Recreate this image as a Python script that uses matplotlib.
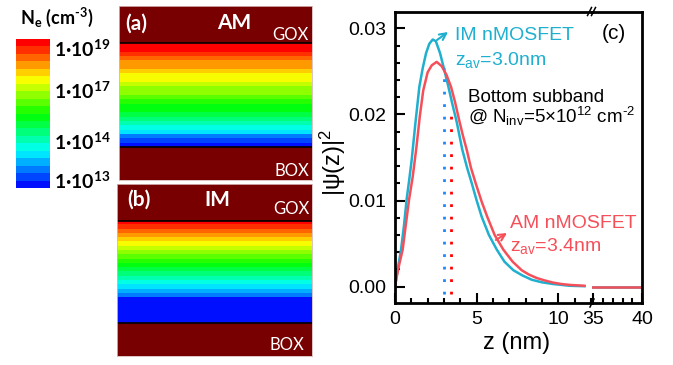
import numpy as np
import matplotlib
matplotlib.use('Agg')
import matplotlib.pyplot as plt
from matplotlib.colors import ListedColormap, Normalize
from matplotlib.cm import ScalarMappable
from matplotlib.lines import Line2D
from matplotlib.ticker import MultipleLocator, FormatStrFormatter

plt.rcParams['font.family'] = ['Liberation Sans', 'DejaVu Sans']
plt.rcParams['mathtext.default'] = 'regular'

# |psi(z)|^2 of the bottom subband
im_z = [0, 0.1, 0.2, 0.37, 0.55, 0.71, 0.87, 1.02, 1.25, 1.49, 1.7, 1.9, 2.1, 2.31,
        2.5, 2.76, 3.0, 3.27, 3.5, 3.78, 4.12, 4.4, 4.7, 5.0, 5.31, 5.75, 6.23, 6.7,
        7.25, 7.8, 8.37, 9.0, 9.7, 10.7, 11.6]
im_psi = [0, 0.0012, 0.0024, 0.0043, 0.0071, 0.0101, 0.0124, 0.0147, 0.0190, 0.0232,
          0.0254, 0.0271, 0.0282, 0.0287, 0.0285, 0.0271, 0.0253, 0.0232, 0.0213,
          0.0191, 0.0159, 0.0139, 0.0120, 0.0100, 0.0081, 0.0060, 0.0043, 0.0029,
          0.0019, 0.0013, 0.0008, 0.0005, 0.0003, 0.0001, 0.00005]
am_z = [0, 0.1, 0.25, 0.47, 0.65, 0.86, 1.08, 1.3, 1.52, 1.73, 2.0, 2.25, 2.55, 2.86,
        3.15, 3.43, 3.68, 3.92, 4.15, 4.39, 4.65, 4.94, 5.3, 5.65, 6.1, 6.63, 7.2,
        7.76, 8.2, 8.68, 9.2, 9.7, 10.2, 10.7, 11.6]
am_psi = [0, 0.0011, 0.0025, 0.0043, 0.0070, 0.0101, 0.0127, 0.0160, 0.0198, 0.0228,
          0.0249, 0.0257, 0.0261, 0.0256, 0.0246, 0.0232, 0.0214, 0.0194, 0.0176,
          0.0159, 0.0138, 0.0120, 0.0099, 0.0081, 0.0060, 0.0043, 0.0029, 0.0019,
          0.0014, 0.0010, 0.0007, 0.00046, 0.0003, 0.0002, 0.0001]
tail_z = [34.85, 40.0]
tail_psi = [0.0, 0.0]
zav = [3.0, 3.4]            # IM, AM
zav_top = [0.0254, 0.0209]

# electron density colour level across the Si film, top (GOX) to bottom (BOX)
am_level = [0.98, 0.95, 0.91, 0.87, 0.84, 0.80, 0.77, 0.73, 0.70, 0.67, 0.63, 0.60,
            0.56, 0.53, 0.49, 0.45, 0.40, 0.35, 0.31, 0.26, 0.20, 0.14, 0.07, 0.01]
im_level = [0.98, 0.93, 0.88, 0.83, 0.78, 0.73, 0.68, 0.63, 0.58, 0.53, 0.48, 0.43,
            0.38, 0.33, 0.28, 0.23, 0.16, 0.10, 0.03, 0.0, 0.0, 0.0, 0.0, 0.0]
layers = [33, 103, 37]      # BOX, Si, GOX

cbar_pos = [0.054, 0.32, 0.66, 0.94]
cbar_labels = [r'1·10$^{13}$', r'1·10$^{14}$', r'1·10$^{17}$', r'1·10$^{19}$']

cyan = '#1FAFCF'
red = '#F5505A'
dark = '#780000'
cmap = ListedColormap(plt.cm.hsv(np.linspace(0.667, 0.0, 20)))

W, H = 673, 365
fig = plt.figure(figsize=(6.73, 3.65), dpi=100)


def px(x0, y0, x1, y1):
    return [x0 / W, 1 - y1 / H, (x1 - x0) / W, (y1 - y0) / H]


def draw_film(ax, level, tag, name, pos):
    box, si, gox = layers
    ax.axhspan(0, box, color=dark, lw=0)
    ax.axhspan(box + si, box + si + gox, color=dark, lw=0)
    ax.imshow(np.array(level)[:, None], cmap=cmap, vmin=0, vmax=1, aspect='auto',
              extent=(0, 1, box, box + si), interpolation='nearest', origin='upper')
    ax.axhline(box, color='k', lw=1.2)
    ax.axhline(box + si, color='k', lw=1.2)
    ax.set_xlim(0, 1)
    ax.set_ylim(0, box + si + gox)
    ax.set_xticks([])
    ax.set_yticks([])
    for s in ax.spines.values():
        s.set_color('#d8b8b8')
        s.set_linewidth(0.6)
    f = ['Lato', 'DejaVu Sans']
    ax.text(pos[0], pos[1], tag, transform=ax.transAxes, color='w', fontsize=15,
            fontweight='bold', family=f, ha='left', va='center')
    ax.text(pos[2], pos[1], name, transform=ax.transAxes, color='w', fontsize=15,
            fontweight='bold', family=f, ha='center', va='center')
    ax.text(pos[3], pos[4], 'GOX', transform=ax.transAxes, color='w', fontsize=12,
            family=f, ha='right', va='center')
    ax.text(pos[5], pos[6], 'BOX', transform=ax.transAxes, color='w', fontsize=12,
            family=f, ha='right', va='center')


ax_a = fig.add_axes(px(119, 6, 312, 180))
draw_film(ax_a, am_level, '(a)', 'AM', [0.031, 0.9, 0.598, 0.984, 0.833, 0.984, 0.052])
ax_b = fig.add_axes(px(117, 184, 312, 356))
draw_film(ax_b, im_level, '(b)', 'IM', [0.051, 0.907, 0.513, 0.985, 0.853, 0.96, 0.064])

# colour bar
cax = fig.add_axes(px(16, 39, 50, 188))
cb = fig.colorbar(ScalarMappable(Normalize(0, 1), cmap), cax=cax)
cb.outline.set_visible(False)
cb.set_ticks(cbar_pos)
cb.set_ticklabels(cbar_labels)
cax.tick_params(length=0, pad=3)
for t in cax.get_yticklabels():
    t.set_family(['Lato', 'DejaVu Sans'])
    t.set_fontweight('bold')
    t.set_fontsize(14)
fig.text(20 / W, 1 - 17 / H, 'N$_e$ (cm$^{\u2010 3}$)', family=['Lato', 'DejaVu Sans'],
         fontweight='bold', fontsize=13, ha='left', va='center')

# panel (c), broken x axis
ax2 = fig.add_axes(px(592, 11.5, 642, 303))
ax1 = fig.add_axes(px(395, 11.5, 592, 303))
ax1.set_zorder(ax2.get_zorder() + 1)
ax1.patch.set_visible(False)
ylim = (-0.0019, 0.03195)

ax1.plot(im_z, im_psi, color=cyan, lw=1.8)
ax1.plot(am_z, am_psi, color=red, lw=1.8)
ax2.plot(tail_z, tail_psi, color=cyan, lw=1.8)
ax2.plot(tail_z, tail_psi, color=red, lw=1.8)
for z, top, c in zip(zav, zav_top, ['#1E88FF', '#FF0000']):
    ax1.plot([z, z], [-0.0009, top], color=c, lw=2.0, ls=(0, (1.0, 3.5)),
             dash_capstyle='butt')

ax1.set_xlim(0, 12.06)
ax2.set_xlim(34.85, 40)
for ax in (ax1, ax2):
    ax.set_ylim(*ylim)
    for s in ax.spines.values():
        s.set_linewidth(2)
    ax.tick_params(which='both', direction='in', top=False, right=False, width=1.5,
                   labelsize=14, pad=6)
    ax.tick_params(which='major', length=7)
    ax.tick_params(which='minor', length=3.5)
    ax.xaxis.set_minor_locator(MultipleLocator(1))
ax1.spines['right'].set_visible(False)
ax2.spines['left'].set_visible(False)
ax1.xaxis.set_major_locator(MultipleLocator(5))
ax1.yaxis.set_major_locator(MultipleLocator(0.01))
ax1.yaxis.set_minor_locator(MultipleLocator(0.002))
ax1.yaxis.set_major_formatter(FormatStrFormatter('%.2f'))
ax2.set_xticks([35, 40])
ax2.tick_params(axis='y', which='both', left=False, labelleft=False)

# break marks
xb = 592 / W
for yb, offs in [(1 - 11.5 / H, [-2.5, 1.5]), (1 - 303 / H, [0])]:
    for o in offs:
        fig.add_artist(Line2D([xb + (o - 2) / W, xb + (o + 2) / W],
                              [yb - 4 / H, yb + 4 / H], color='k', lw=1.1,
                              transform=fig.transFigure))

fig.text(517 / W, 1 - 343 / H, 'z (nm)', fontsize=17, ha='center', va='center')
fig.text(333 / W, 1 - 162 / H, '|ψ(z)|$^2$', fontsize=17, rotation=90,
         ha='center', va='center')

ax1.text(3.67, 0.02864, 'IM nMOSFET', color=cyan, fontsize=14, va='baseline')
ax1.text(3.67, 0.02574, 'z$_{av}$=3.0nm', color=cyan, fontsize=14, va='baseline')
ax1.text(12.68, 0.0287, '(c)', fontsize=15, va='baseline')
ax1.text(4.47, 0.02148, 'Bottom subband', fontsize=13.5, va='baseline')
ax1.text(4.45, 0.01897, '@ N$_{inv}$=5×10$^{12}$ cm$^{\u2010 2}$', fontsize=13.5,
         va='baseline')
ax1.text(7.04, 0.00685, 'AM nMOSFET', color=red, fontsize=14, va='baseline')
ax1.text(7.04, 0.00414, 'z$_{av}$=3.4nm', color=red, fontsize=14, va='baseline')
ax1.annotate('', xy=(3.25, 0.02957), xytext=(2.57, 0.02864),
             arrowprops=dict(arrowstyle='->', color=cyan, lw=1.5, shrinkA=0,
                             shrinkB=0, mutation_scale=12))
ax1.annotate('', xy=(6.86, 0.00623), xytext=(6.18, 0.00542),
             arrowprops=dict(arrowstyle='->', color=red, lw=1.5, shrinkA=0,
                             shrinkB=0, mutation_scale=12))

fig.savefig('out.png', dpi=100)
